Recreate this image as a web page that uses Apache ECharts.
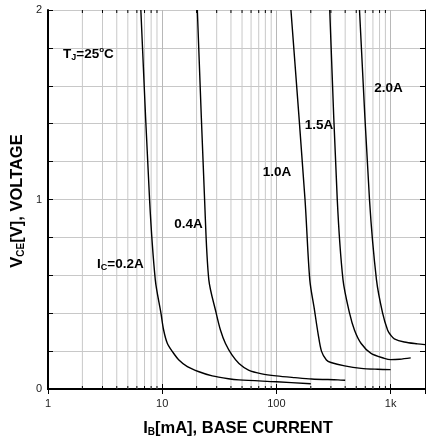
<!DOCTYPE html>
<html>
<head>
<meta charset="utf-8">
<script src="https://cdn.jsdelivr.net/npm/echarts@6/dist/echarts.min.js"></script>
<style>
html,body{margin:0;padding:0;background:#fff;}
#chart{width:428px;height:444px;}
</style>
</head>
<body>
<div id="chart"></div>
<script>
// Base current IB [mA] and VCE [V] for each collector current curve
const ib_02 = [6.5, 7.75, 8.7, 9.75, 10.3, 11.1, 12.3, 14.0, 16.6, 21, 27.4, 38, 47, 100, 200];
const vce_02 = [2.0, 1.0, 0.576, 0.40, 0.31, 0.24, 0.197, 0.153, 0.118, 0.091, 0.069, 0.054, 0.048, 0.038, 0.028];
const ib_04 = [20.3, 23.5, 25.6, 29.7, 32.4, 35.8, 40.8, 47, 57, 74.5, 100, 145, 203, 346, 400];
const vce_04 = [2.0, 1.0, 0.576, 0.40, 0.31, 0.24, 0.18, 0.135, 0.10, 0.08, 0.069, 0.06, 0.053, 0.048, 0.046];
const ib_10 = [134, 178, 196, 215, 232, 248, 274, 300, 396, 552, 770, 1000];
const vce_10 = [2.0, 1.0, 0.576, 0.42, 0.29, 0.20, 0.153, 0.14, 0.122, 0.109, 0.104, 0.102];
const ib_15 = [293, 341, 383, 437, 483, 552, 674, 881, 1000, 1200, 1500];
const vce_15 = [2.0, 1.0, 0.576, 0.40, 0.31, 0.24, 0.188, 0.162, 0.155, 0.157, 0.164];
const ib_20 = [534, 653, 752, 851, 942, 1000, 1077, 1316, 1718, 2000];
const vce_20 = [2.0, 1.0, 0.576, 0.40, 0.31, 0.285, 0.265, 0.248, 0.238, 0.234];
const curveNames = ['0.2A', '0.4A', '1.0A', '1.5A', '2.0A'];
// minor log positions (gridlines / ticks)
const minorX = [2,3,4,5,6,7,8,9,20,30,40,50,60,70,80,90,200,300,400,500,600,700,800,900];
const xMin = 1, xMax = 2000, yMin = 0, yMax = 2, yStep = 0.2;

const pairs = (xs, ys) => xs.map((x, i) => [x, ys[i]]);
const curves = [pairs(ib_02, vce_02), pairs(ib_04, vce_04), pairs(ib_10, vce_10), pairs(ib_15, vce_15), pairs(ib_20, vce_20)];

const chart = echarts.init(document.getElementById('chart'), null, {renderer: 'canvas'});
const FONT = '"Liberation Sans", Arial, sans-serif';

const xLabelFmt = v => {
  const l = Math.log10(v);
  if (Math.abs(l - Math.round(l)) > 1e-6) return '';
  const r = Math.round(v);
  return r >= 1000 ? (r / 1000) + 'k' : String(r);
};
const yLabelFmt = v => Math.abs(v - Math.round(v)) < 1e-6 ? String(Math.round(v)) : '';

const gridColor = '#c8c8c8';
const axisCommonX = {
  type: 'log', logBase: 10, min: xMin, max: xMax,
  axisLine: {show: true, lineStyle: {color: '#000', width: 2}},
  axisTick: {show: true, inside: true, length: 5, lineStyle: {color: '#000', width: 1}},
  splitLine: {show: false}
};
const axisCommonY = {
  type: 'value', min: yMin, max: yMax, interval: yStep,
  axisLine: {show: true, lineStyle: {color: '#000', width: 2}},
  axisTick: {show: true, inside: true, length: 5, lineStyle: {color: '#000', width: 1}}
};

const series = curves.map((d, i) => ({
  type: 'line', name: curveNames[i], data: d, xAxisIndex: 0, yAxisIndex: 0,
  showSymbol: false, symbol: 'none', smooth: 0.3,
  lineStyle: {color: '#000', width: 1.4}, z: 5, silent: true, clip: true
}));

series.unshift({
  type: 'custom', xAxisIndex: 0, yAxisIndex: 0, data: minorX.map(v => [v]), silent: true, z: 1,
  renderItem: (params, api) => {
    const v = api.value(0);
    const p0 = api.coord([v, yMin]);
    const p1 = api.coord([v, yMax]);
    return {
      type: 'group',
      children: [
        {type: 'line', shape: {x1: p0[0], y1: p0[1], x2: p1[0], y2: p1[1]}, style: {stroke: gridColor, lineWidth: 1}},
        {type: 'line', shape: {x1: p0[0], y1: p0[1], x2: p0[0], y2: p0[1] - 3}, style: {stroke: '#000', lineWidth: 1}},
        {type: 'line', shape: {x1: p1[0], y1: p1[1], x2: p1[0], y2: p1[1] + 3}, style: {stroke: '#000', lineWidth: 1}}
      ]
    };
  }
});

const sub = {fontSize: 9, fontWeight: 'bold', fontFamily: FONT, verticalAlign: 'bottom', lineHeight: 9, padding: [6, 0, 0, 0], fill: '#000'};
const sup = {fontSize: 8, fontWeight: 'bold', fontFamily: FONT, verticalAlign: 'top', lineHeight: 8, padding: [0, 0, 6, 0], fill: '#000'};
const lbl = (x, y, text, align, extra) => Object.assign({
  type: 'text', x: x, y: y, z: 10, silent: true,
  style: {text: text, fontSize: 13.5, fontWeight: 'bold', fontFamily: FONT, fill: '#000',
    align: align || 'center', verticalAlign: 'middle', lineHeight: 16,
    rich: {s: sub, p: sup}}
}, extra || {});

chart.setOption({
  animation: false,
  backgroundColor: '#fff',
  grid: {left: 48, right: 1, top: 10, bottom: 55, containLabel: false},
  xAxis: [
    Object.assign({}, axisCommonX, {
      position: 'bottom',
      splitLine: {show: true, lineStyle: {color: '#b8b8b8', width: 1}},
      axisLabel: {show: true, formatter: xLabelFmt, fontSize: 11, color: '#222', fontFamily: FONT, margin: 9}
    }),
    Object.assign({}, axisCommonX, {position: 'top', axisLabel: {show: false}})
  ],
  yAxis: [
    Object.assign({}, axisCommonY, {
      position: 'left',
      splitLine: {show: true, lineStyle: {color: gridColor, width: 1}},
      axisLabel: {show: true, formatter: yLabelFmt, fontSize: 11, color: '#222', fontFamily: FONT, margin: 6}
    }),
    Object.assign({}, axisCommonY, {position: 'right', axisLine: {show: true, lineStyle: {color: '#000', width: 1}}, splitLine: {show: false}, axisLabel: {show: false}})
  ],
  series: series,
  graphic: [
    lbl(63, 54, 'T{s|J}=25{p|o}C', 'left'),
    lbl(97, 264, 'I{s|C}=0.2A', 'left'),
    lbl(188.5, 224, '0.4A'),
    lbl(277, 172, '1.0A'),
    lbl(319, 125, '1.5A'),
    lbl(388.5, 88, '2.0A'),
    {type: 'text', x: 238, y: 428, z: 10, silent: true,
      style: {text: 'I{s|B}[mA], BASE CURRENT', fontSize: 16.5, fontWeight: 'bold', fontFamily: FONT, fill: '#000',
        align: 'center', verticalAlign: 'middle', lineHeight: 18,
        rich: {s: {fontSize: 10, fontWeight: 'bold', fontFamily: FONT, verticalAlign: 'bottom', lineHeight: 10, padding: [7, 0, 0, 0], fill: '#000'}}}},
    {type: 'text', x: 17, y: 201, rotation: Math.PI / 2, z: 10, silent: true,
      style: {text: 'V{s|CE}[V], VOLTAGE', fontSize: 16.5, fontWeight: 'bold', fontFamily: FONT, fill: '#000',
        align: 'center', verticalAlign: 'middle', lineHeight: 18,
        rich: {s: {fontSize: 10, fontWeight: 'bold', fontFamily: FONT, verticalAlign: 'bottom', lineHeight: 10, padding: [7, 0, 0, 0], fill: '#000'}}}}
  ]
});
</script>
</body>
</html>
